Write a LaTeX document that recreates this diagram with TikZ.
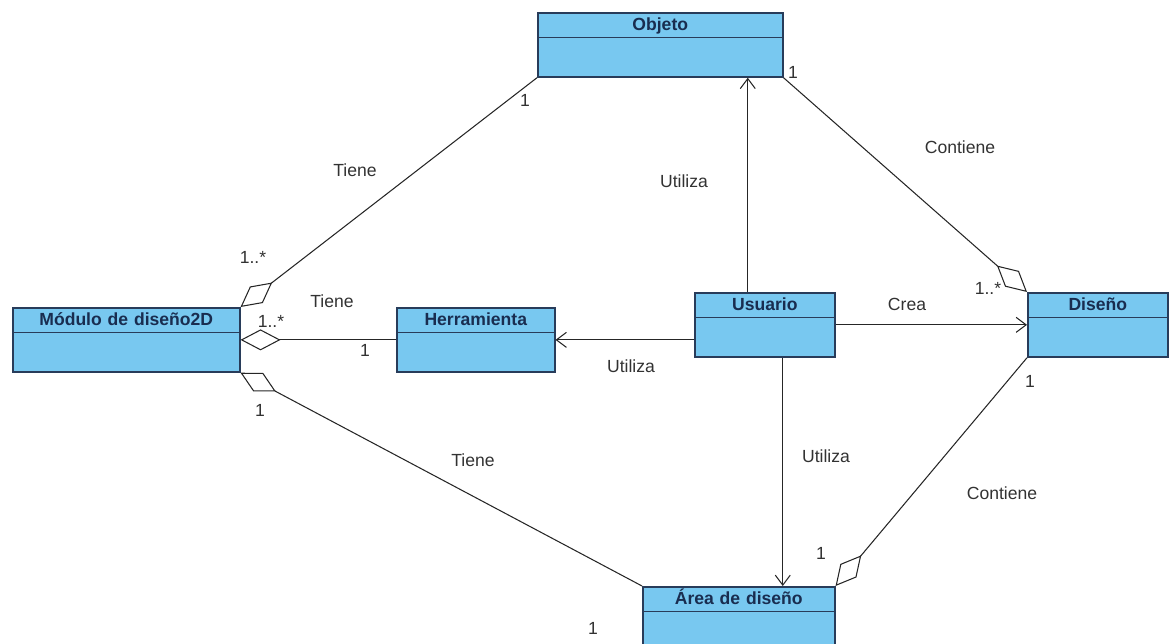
\documentclass[tikz,border=0pt]{standalone}
\usepackage{fontspec}
\setmainfont{Liberation Sans}
\usetikzlibrary{arrows.meta,calc,positioning,shapes.multipart}
\definecolor{clsfill}{RGB}{120,200,240}
\definecolor{clsline}{RGB}{40,60,90}
\definecolor{clstext}{RGB}{25,45,80}
\definecolor{lbltext}{RGB}{50,50,50}
\tikzset{%
	cls/.style   = {draw=clsline, fill=clsfill, line width=0.9pt, rectangle split, rectangle split parts=2, inner sep=0pt, align=center, anchor=north west, font=\fontsize{10}{12}\selectfont\bfseries, text=clstext}, % Class
	lbl/.style   = {font=\fontsize{10}{12}\selectfont, text=lbltext, inner sep=1pt}, % Label
	assoc/.style = {draw=black!85, line width=0.6pt},
	agg/.style   = {assoc, -{Diamond[open, length=0.8cm, width=0.42cm]}}, % Aggregation
	uses/.style  = {assoc, -{Straight Barb[length=0.2cm, width=0.3cm]}}, % Directed
}
\newcommand{\clshead}{\rule[-0.12cm]{0pt}{0.46cm}}
\newcommand{\clsbody}{\rule{0pt}{0.76cm}}

\begin{document}
\begin{tikzpicture}[x=0.02cm, y=-0.02cm]
		\useasboundingbox (0,0) rectangle (1169,644);
		\node[cls, text width=4.9cm] (obj) at (537,12) {\clshead Objeto \nodepart{two} \clsbody};
		\node[cls, text width=4.54cm] (mod) at (12,307) {\clshead Módulo de diseño2D \nodepart{two} \clsbody};
		\node[cls, text width=3.16cm] (her) at (396,307) {\clshead Herramienta \nodepart{two} \clsbody};
		\node[cls, text width=2.8cm] (usr) at (694,292) {\clshead Usuario \nodepart{two} \clsbody};
		\node[cls, text width=2.8cm] (dis) at (1027,292) {\clshead Diseño \nodepart{two} \clsbody};
		\node[cls, text width=3.84cm] (are) at (642,586) {\clshead Área de diseño \nodepart{two} \clsbody};
		\draw[agg] (obj.south west) -- (mod.north east);
		\draw[agg] (her.west) -- (mod.east);
		\draw[agg] (are.north west) -- (mod.south east);
		\draw[agg] (obj.south east) -- (dis.north west);
		\draw[agg] (dis.south west) -- (are.north east);
		\draw[uses] (usr.east) -- (dis.west);
		\draw[uses] (usr.west |- her.east) -- (her.east);
		\draw[uses] ([xshift=-0.34cm]usr.north) -- ([xshift=-0.34cm]usr.north |- obj.south);
		\draw[uses] ([xshift=0.36cm]usr.south) -- ([xshift=0.36cm]usr.south |- are.north);
		% multiplicities and names
		\node[lbl] (m1) at (525,100) {1};
		\node[lbl] (t1) at (355,170) {Tiene};
		\node[lbl] (m2) at (253,257) {1..*};
		\node[lbl] (t2) at (332,301) {Tiene};
		\node[lbl] (m3) at (271,321) {1..*};
		\node[lbl] (m4) at (365,350) {1};
		\node[lbl] (m5) at (260,410) {1};
		\node[lbl] (t3) at (473,460) {Tiene};
		\node[lbl] (m6) at (593,628) {1};
		\node[lbl] (u1) at (684,181) {Utiliza};
		\node[lbl] (u2) at (631,366) {Utiliza};
		\node[lbl] (u3) at (826,456) {Utiliza};
		\node[lbl] (m7) at (793,72) {1};
		\node[lbl] (c1) at (960,147) {Contiene};
		\node[lbl] (m8) at (988,288) {1..*};
		\node[lbl] (cr) at (907,304) {Crea};
		\node[lbl] (m9) at (1030,381) {1};
		\node[lbl] (c2) at (1002,493) {Contiene};
		\node[lbl] (m10) at (821,553) {1};
		\end{tikzpicture}
\end{document}
